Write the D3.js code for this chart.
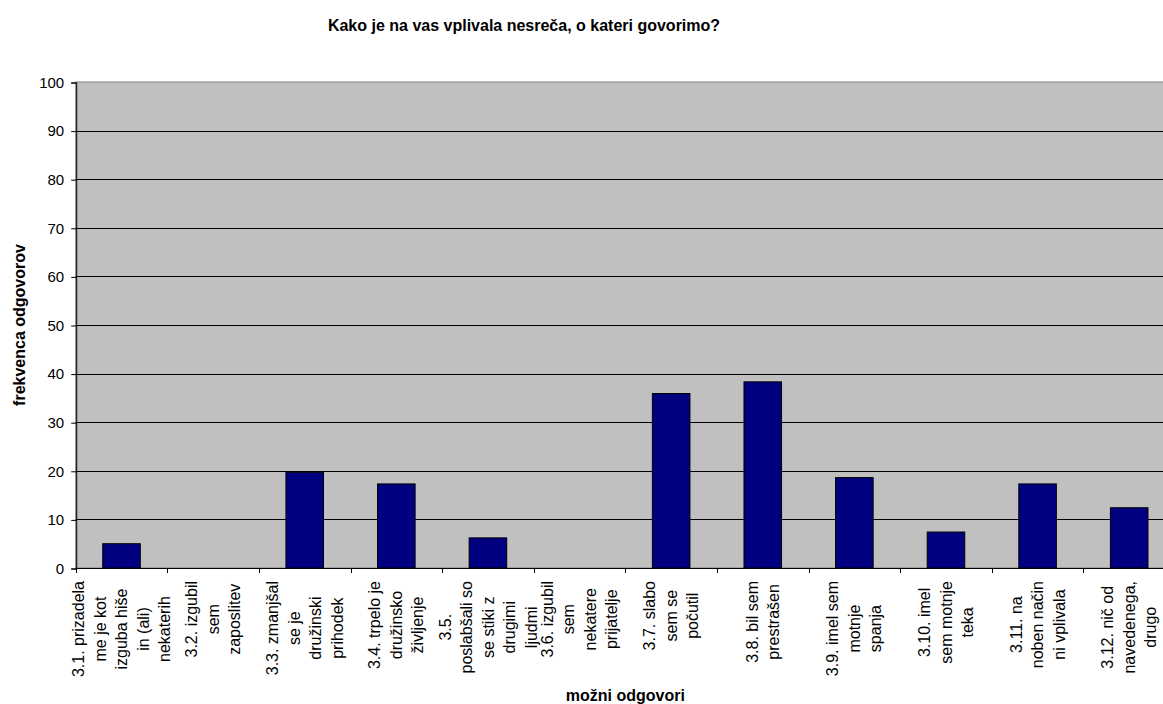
<!DOCTYPE html>
<html>
<head>
<meta charset="utf-8">
<script src="https://cdn.jsdelivr.net/npm/d3@7"></script>
<style>
    body { margin: 0; background: #fff; }
    text { font-family: Arial, "Liberation Sans", sans-serif; fill: #000; }
</style>
</head>
<body>
<div id="chart-view"></div>
<script>

// Chart data
let chartTitle = 'Kako je na vas vplivala nesreča, o kateri govorimo?';
let xTitle = 'možni odgovori';
let yTitle = 'frekvenca odgovorov';

let categoryLines = [
    ['3.1. prizadela', 'me je kot', 'izguba hiše', 'in (ali)', 'nekaterih'],
    ['3.2. izgubil', 'sem', 'zaposlitev'],
    ['3.3. zmanjšal', 'se je', 'družinski', 'prihodek'],
    ['3.4. trpelo je', 'družinsko', 'življenje'],
    ['3.5.', 'poslabšali so', 'se stiki z', 'drugimi', 'ljudmi'],
    ['3.6. izgubil', 'sem', 'nekatere', 'prijatelje'],
    ['3.7. slabo', 'sem se', 'počutil'],
    ['3.8. bil sem', 'prestrašen'],
    ['3.9. imel sem', 'motnje', 'spanja'],
    ['3.10. imel', 'sem motnje', 'teka'],
    ['3.11. na', 'noben način', 'ni vplivala'],
    ['3.12. nič od', 'navedenega,', 'drugo']
];

let values = [5.0, 0, 19.7, 17.3, 6.2, 0, 35.9, 38.3, 18.6, 7.4, 17.3, 12.4];

let yTicks = [0, 10, 20, 30, 40, 50, 60, 70, 80, 90, 100];

// Class for drawing the bar chart
class BarChart {
    constructor(lines, values) {

        this.lines = lines;
        this.values = values;
        this.width = 1163;
        this.height = 704;
        this.plot = { left: 75.7, right: 1175, top: 82, bottom: 568 };

    }

    draw() {

        let that = this;
        let p = this.plot;
        let keys = this.lines.map((d, i) => i);

        let svg = d3.select('#chart-view').append('svg')
            .attr('width', this.width)
            .attr('height', this.height);

        let x = d3.scaleBand()
            .domain(keys)
            .range([p.left, p.right])
            .paddingInner(0.59)
            .paddingOuter(0.295);

        let y = d3.scaleLinear()
            .domain([0, 100])
            .range([p.bottom, p.top]);

        let step = x.step();
        let bandStart = i => x(i) - step * 0.295;

        // Plot background
        svg.append('rect')
            .attr('x', p.left)
            .attr('y', p.top)
            .attr('width', p.right - p.left)
            .attr('height', p.bottom - p.top)
            .attr('fill', '#c0c0c0')
            .attr('stroke', '#808080')
            .attr('stroke-width', 1);

        // Gridlines
        svg.append('g')
            .selectAll('line')
            .data(yTicks.filter(d => d > 0 && d < 100))
            .enter().append('line')
            .attr('x1', p.left)
            .attr('x2', p.right)
            .attr('y1', d => Math.round(y(d)) + 0.5)
            .attr('y2', d => Math.round(y(d)) + 0.5)
            .attr('stroke', '#000')
            .attr('stroke-width', 1);

        // Bars
        svg.append('g')
            .selectAll('rect')
            .data(this.values)
            .enter().append('rect')
            .attr('x', (d, i) => x(i))
            .attr('y', d => y(d))
            .attr('width', x.bandwidth())
            .attr('height', d => y(0) - y(d))
            .attr('fill', '#000080')
            .attr('stroke', d => d > 0 ? '#000' : 'none')
            .attr('stroke-width', 1);

        // Y axis
        let yAxis = d3.axisLeft(y)
            .tickValues(yTicks)
            .tickSize(5)
            .tickPadding(7);

        let yg = svg.append('g')
            .attr('transform', 'translate(' + (p.left + 0.5) + ',0.5)')
            .call(yAxis);
        yg.select('.domain').attr('stroke', '#000');
        yg.selectAll('text').style('font-size', '15px');

        // X axis line and ticks at band boundaries
        svg.append('line')
            .attr('x1', p.left)
            .attr('x2', p.right)
            .attr('y1', p.bottom + 0.5)
            .attr('y2', p.bottom + 0.5)
            .attr('stroke', '#000');

        svg.append('g')
            .selectAll('line')
            .data(keys)
            .enter().append('line')
            .attr('x1', d => Math.round(bandStart(d)) + 0.5)
            .attr('x2', d => Math.round(bandStart(d)) + 0.5)
            .attr('y1', p.bottom)
            .attr('y2', p.bottom + 5)
            .attr('stroke', '#000');

        // Category labels, rotated, lines centred on each other
        let labelTop = 581;
        let lineStep = 21.5;
        let labels = svg.append('g');

        this.lines.forEach(function(lines, i) {
            let cx = x(i) + x.bandwidth() / 2;
            let g = labels.append('g');
            let texts = g.selectAll('text')
                .data(lines)
                .enter().append('text')
                .style('font-size', '16px')
                .attr('text-anchor', 'middle')
                .attr('dy', '0.35em')
                .text(d => d);
            let maxLen = d3.max(texts.nodes(), n => n.getComputedTextLength());
            let cy = labelTop + maxLen / 2;
            texts.attr('transform', (d, j) =>
                'translate(' + (cx + (j - (lines.length - 1) / 2) * lineStep) + ',' + cy + ') rotate(-90)');
        });

        // Titles
        svg.append('text')
            .attr('x', 524)
            .attr('y', 31)
            .attr('text-anchor', 'middle')
            .style('font-size', '16px')
            .style('font-weight', 'bold')
            .text(chartTitle);

        svg.append('text')
            .attr('x', (p.left + p.right) / 2)
            .attr('y', 701)
            .attr('text-anchor', 'middle')
            .style('font-size', '16px')
            .style('font-weight', 'bold')
            .text(xTitle);

        svg.append('text')
            .attr('transform', 'translate(25,' + (p.top + p.bottom) / 2 + ') rotate(-90)')
            .attr('text-anchor', 'middle')
            .style('font-size', '16px')
            .style('font-weight', 'bold')
            .text(yTitle);

    }
}

let chart = new BarChart(categoryLines, values);
chart.draw();

</script>
</body>
</html>
